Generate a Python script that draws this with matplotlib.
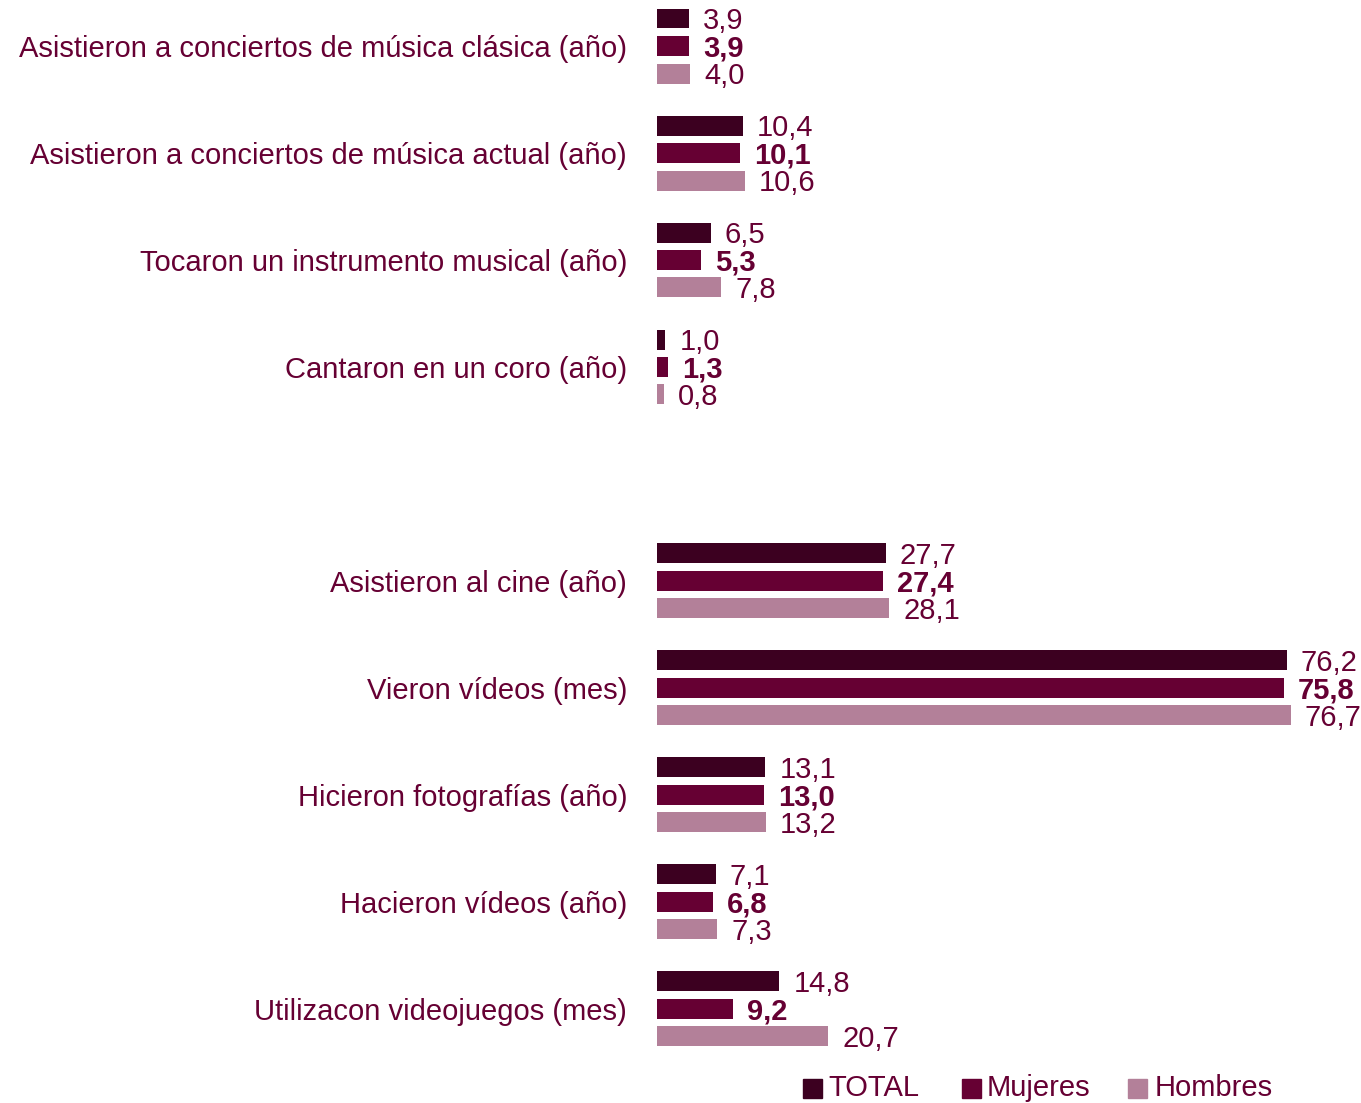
import matplotlib
matplotlib.use("Agg")
import matplotlib.pyplot as plt
from matplotlib.patches import Rectangle

plt.rcParams['font.family'] = ['Liberation Sans', 'DejaVu Sans']

categories = [
    "Asistieron a conciertos de música clásica (año)",
    "Asistieron a conciertos de música actual (año)",
    "Tocaron un instrumento musical (año)",
    "Cantaron en un coro (año)",
    "",
    "Asistieron al cine (año)",
    "Vieron vídeos (mes)",
    "Hicieron fotografías (año)",
    "Hacieron vídeos (año)",
    "Utilizacon videojuegos (mes)",
]
total = [3.9, 10.4, 6.5, 1.0, None, 27.7, 76.2, 13.1, 7.1, 14.8]
mujeres = [3.9, 10.1, 5.3, 1.3, None, 27.4, 75.8, 13.0, 6.8, 9.2]
hombres = [4.0, 10.6, 7.8, 0.8, None, 28.1, 76.7, 13.2, 7.3, 20.7]
series_names = ["TOTAL", "Mujeres", "Hombres"]
colors = ["#3c0020", "#660033", "#b38099"]
text_color = "#660033"
FS = 21

W, H = 1361, 1103
fig = plt.figure(figsize=(W / 100, H / 100), dpi=100)
ax_left = 657 / W
ax_right = 1.0
ax_top = 1.0
ax_bottom = 1 - 1060 / H
ax = fig.add_axes([ax_left, ax_bottom, ax_right - ax_left, ax_top - ax_bottom])

slot = 107.0
px_per_unit = (1291 - 657) / 76.7
ax.set_xlim(0, (W - 657) / px_per_unit)
ax.set_ylim((1060 - 46) / slot, -46 / slot)

off = 27.5 / slot
bh = 20 / slot
gap = 14 / px_per_unit
for i, cat in enumerate(categories):
    vals = [total[i], mujeres[i], hombres[i]]
    if vals[0] is None:
        continue
    for j, v in enumerate(vals):
        y = i + (j - 1) * off
        ax.barh(y, v, height=bh, color=colors[j], edgecolor='none')
        ax.text(v + gap, y + 0.02, f"{v:.1f}".replace('.', ','), va='center', ha='left',
                fontsize=FS, color=text_color, fontweight='bold' if j == 1 else 'normal')

ax.set_yticks([i for i, c in enumerate(categories) if c])
ax.set_yticklabels([c for c in categories if c], fontsize=FS, color=text_color)
ax.tick_params(axis='y', length=0, pad=30 * 0.72)
ax.set_xticks([])
for s in ax.spines.values():
    s.set_visible(False)

# legend
sq_x = [803, 962, 1128]
tx_x = [828, 987, 1155]
ly = 1088
sq = 19
for name, c, sx, tx in zip(series_names, colors, sq_x, tx_x):
    fig.patches.append(Rectangle((sx / W, 1 - (ly + sq / 2) / H), sq / W, sq / H,
                                 transform=fig.transFigure, color=c, figure=fig))
    fig.text(tx / W, 1 - ly / H, name, ha='left', va='center', fontsize=FS, color=text_color)

fig.savefig("out.png", dpi=100)
